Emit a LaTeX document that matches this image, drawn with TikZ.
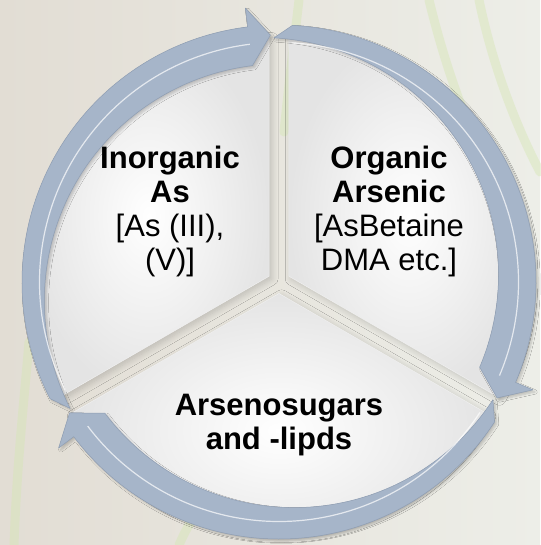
\documentclass[tikz,border=0pt]{standalone}
\usepackage{fontspec}
\setmainfont{Liberation Sans}
\usepackage{xcolor}
\definecolor{ringBlue}{HTML}{A6B5C9}
\definecolor{ringEdge}{HTML}{8E9DB2}
\definecolor{wedgeGray}{HTML}{E4E4E4}
\definecolor{paperBeige}{HTML}{E2DDD4}
\definecolor{paperLight}{HTML}{EDEEE8}
\definecolor{grassGreen}{HTML}{D6E6B4}
\usetikzlibrary{
    shadows.blur,
    positioning,
    calc,
    backgrounds
}
\tikzset{
    % Text inside the three wedges
    cycle text/.style={
        font=\fontsize{31}{34}\selectfont,
        align=center,
        text=black,
        inner sep=0pt,
    },
    % Exploded pie wedges - white centre, soft grey rim
    wedge/.style={
        inner color=white,
        outer color=wedgeGray,
        draw=white!88!gray,
        line width=0.5pt,
        blur shadow={
            shadow xshift=0.5ex,
            shadow yshift=-0.5ex,
            shadow blur steps=8,
            shadow blur radius=1.2ex,
            shadow opacity=18
        },
    },
    % Curved cycle arrows
    ring arrow/.style={
        fill=ringBlue,
        draw=ringEdge,
        line width=0.5pt,
        line join=round,
        blur shadow={
            shadow xshift=0.4ex,
            shadow yshift=-0.4ex,
            shadow blur steps=6,
            shadow opacity=20
        },
    },
    % light rim along the inner edge of an arrow
    ring shine/.style={
        draw=white,
        line width=1.2pt,
        opacity=0.7,
    },
    % Faint grass in the faded photo behind
    grass/.style={
        draw=grassGreen,
        line width=9pt,
        line cap=round,
        opacity=0.45,
    },
}
% tail angle, head base angle, tip angle
\newcommand{\ringarrow}[3]{%
    \path[ring arrow] (#1:257pt) arc[start angle=#1, end angle=#2, radius=257pt]
        -- (#2:276pt) -- (#3:247pt) -- (#2:218pt)
        arc[start angle=#2, end angle=#1, radius=237pt] -- cycle;
    \draw[ring shine] (#1:239.5pt) arc[start angle=#1, end angle=#2, radius=239.5pt];
}

\begin{document}
\begin{tikzpicture}[x=1pt, y=1pt]
    \useasboundingbox (-279,-263) rectangle (261,282);
    \fill[left color=paperBeige, right color=paperLight] (-279,-263) rectangle (261,282);
    % background grass
    \draw[grass] (150,282) .. controls (170,200) and (200,120) .. (240,60);
    \draw[grass] (200,282) .. controls (215,210) and (240,150) .. (261,110);
    \draw[grass] (-265,-263) .. controls (-262,-180) and (-255,-120) .. (-250,-60);
    \draw[grass] (-100,-263) .. controls (-90,-240) and (-80,-225) .. (-60,-215);
    \draw[grass] (20,282) .. controls (15,240) and (10,200) .. (5,150);

    % wedges
    \path[wedge, shift={(150:11.5pt)}] (0,0) -- (90:240pt)
        arc[start angle=90, end angle=210, radius=240pt] -- cycle;
    \path[wedge, shift={(30:11.5pt)}] (0,0) -- (90:240pt)
        arc[start angle=90, end angle=-30, radius=240pt] -- cycle;
    \path[wedge, shift={(270:11.5pt)}] (0,0) -- (210:240pt)
        arc[start angle=210, end angle=330, radius=240pt] -- cycle;

    % arrows
    \ringarrow{207}{97}{92}
    \ringarrow{87}{-23}{-28}
    \ringarrow{-33}{-143}{-148}

    \node (inorg) [cycle text] at (-109,71) {\textbf{Inorganic}\\\textbf{As}\\{}[As (III),\\(V)]};
    \node (org) [cycle text] at (110,71) {\textbf{Organic}\\\textbf{Arsenic}\\{}[AsBetaine\\DMA etc.]};
    \node (sugars) [cycle text] at (0,-143) {\textbf{Arsenosugars}\\\textbf{and -lipds}};
\end{tikzpicture}
\end{document}
